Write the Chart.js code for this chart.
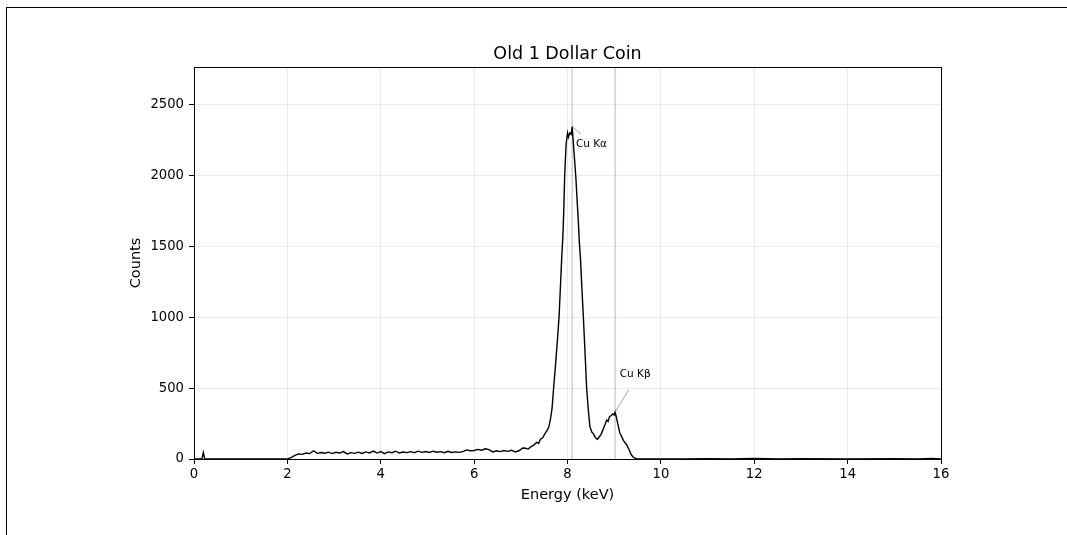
<!DOCTYPE html>
<html><head><meta charset="utf-8">
<script src="https://cdn.jsdelivr.net/npm/chart.js@4.4.1/dist/chart.umd.min.js"></script>
<style>
html,body{margin:0;padding:0;background:#fff;width:1067px;height:535px;overflow:hidden;}
#frame{position:absolute;left:6px;top:7px;width:1200px;height:700px;border-left:1px solid #000;border-top:1px solid #000;}
#wrap{position:absolute;left:94px;top:0;width:947px;height:535px;}
</style></head><body>
<div id="frame"></div>
<div id="wrap"><canvas id="c" width="947" height="535"></canvas></div>
<script>
const chartTitle = 'Old 1 Dollar Coin';
const xLabel = 'Energy (keV)';
const yLabel = 'Counts';
const xTicks = [0, 2, 4, 6, 8, 10, 12, 14, 16];
const yTicks = [0, 500, 1000, 1500, 2000, 2500];
const xRange = [0, 16];
const yRange = [0, 2765];

const energy = [
  0.00, 0.17, 0.20, 0.23, 1.96,
  2.00, 2.08, 2.16, 2.24, 2.32, 2.40, 2.48, 2.56, 2.64, 2.72, 2.80, 2.88, 2.96,
  3.04, 3.12, 3.20, 3.28, 3.36, 3.44, 3.52, 3.60, 3.68, 3.76, 3.84, 3.92,
  4.00, 4.08, 4.16, 4.24, 4.32, 4.40, 4.48, 4.56, 4.64, 4.72, 4.80, 4.88, 4.96,
  5.04, 5.12, 5.20, 5.28, 5.36, 5.44, 5.52, 5.60, 5.68, 5.76, 5.84, 5.92,
  6.00, 6.08, 6.16, 6.24, 6.32, 6.40, 6.48, 6.56, 6.64, 6.72, 6.80, 6.88, 6.96,
  7.04, 7.10, 7.16, 7.22, 7.28, 7.34, 7.38, 7.42, 7.47, 7.52, 7.56, 7.60, 7.64,
  7.67, 7.70, 7.74, 7.78, 7.82, 7.86, 7.88, 7.90, 7.92, 7.94, 7.97,
  8.00, 8.02, 8.05, 8.08, 8.10, 8.12, 8.15, 8.18, 8.21, 8.23, 8.25, 8.28, 8.30,
  8.34, 8.38, 8.41, 8.45, 8.48, 8.52, 8.55, 8.60, 8.64, 8.68, 8.73, 8.77, 8.80,
  8.84, 8.87, 8.90, 8.93, 8.97, 9.00, 9.02, 9.05, 9.09, 9.12, 9.16, 9.20, 9.27,
  9.32, 9.37, 9.41, 9.45, 9.50,
  10.0, 10.5, 11.0, 11.5, 12.0, 12.5, 13.0, 14.0, 15.0, 15.5, 15.8, 16.0
];
const counts = [
  0, 0, 45, 0, 0,
  0, 10, 25, 36, 33, 42, 38, 58, 40, 46, 41, 48, 38,
  47, 42, 52, 36, 45, 40, 48, 39, 50, 43, 56, 42,
  52, 38, 50, 44, 55, 42, 49, 45, 52, 44, 55, 47, 53,
  46, 55, 48, 52, 44, 54, 46, 50, 47, 52, 64, 58,
  60, 68, 62, 72, 66, 50, 58, 52, 60, 54, 62, 50, 58,
  78, 76, 70, 88, 98, 118, 110, 140, 150, 181, 200, 225, 290,
  360, 490, 650, 820, 1005, 1300, 1450, 1560, 1750, 2000, 2220,
  2300, 2270, 2300, 2290, 2345, 2250, 2120, 1980, 1800, 1690, 1550, 1400, 1260,
  1000, 720, 500, 330, 228, 190, 181, 150, 139, 155, 181, 215, 240,
  275, 265, 299, 305, 318, 310, 332, 290, 228, 185, 158, 130, 99,
  65, 28, 12, 5, 0,
  1, 0, 2, 1, 3, 1, 2, 1, 2, 0, 3, 1
];

const lineEnergies = [8.10, 9.02];

const annLabels = ['Cu K\u03b1', 'Cu K\u03b2'];
const annPeakE = [8.10, 9.02];
const annPeakC = [2345, 332];
const annTextE = [8.18, 9.12];
const annTextC = [2200, 580];

const FONT = "'DejaVu Sans', sans-serif";

const spectrum = energy.map((e, i) => ({x: e, y: counts[i]}));
const datasets = [{
  data: spectrum, borderColor: '#000', borderWidth: 1.4, pointRadius: 0,
  tension: 0, fill: false
}];
lineEnergies.forEach(e => datasets.push({
  data: [{x: e, y: yRange[0]}, {x: e, y: yRange[1]}],
  borderColor: 'rgba(31,119,180,0.45)', borderWidth: 1, pointRadius: 0, fill: false
}));

const extras = {
  id: 'extras',
  afterDatasetsDraw(chart) {
    const {ctx, chartArea: a, scales: {x, y}} = chart;
    ctx.save();
    ctx.font = '10.5px ' + FONT;
    ctx.fillStyle = '#000';
    ctx.textAlign = 'left';
    ctx.textBaseline = 'alphabetic';
    const ends = [[5, -13], [9, 13]];
    annLabels.forEach((t, i) => {
      const px = x.getPixelForValue(annPeakE[i]);
      const py = y.getPixelForValue(annPeakC[i]);
      const tx = x.getPixelForValue(annTextE[i]);
      const ty = y.getPixelForValue(annTextC[i]);
      ctx.strokeStyle = '#9a9a9a';
      ctx.lineWidth = 0.9;
      ctx.beginPath();
      ctx.moveTo(px, py);
      ctx.lineTo(tx + ends[i][0], ty + ends[i][1]);
      ctx.stroke();
      ctx.fillText(t, tx, ty);
    });
    ctx.strokeStyle = '#000';
    ctx.lineWidth = 1;
    ctx.strokeRect(Math.round(a.left) + 0.5, Math.round(a.top) + 0.5,
      Math.round(a.right) - Math.round(a.left), Math.round(a.bottom) - Math.round(a.top));
    // title centred over the plot area
    ctx.font = '17.5px ' + FONT;
    ctx.textAlign = 'center';
    ctx.textBaseline = 'middle';
    ctx.fillText(chartTitle, (a.left + a.right) / 2, a.top - 12.5);
    ctx.restore();
  }
};

new Chart(document.getElementById('c'), {
  type: 'line',
  data: {datasets},
  options: {
    responsive: false, animation: false, devicePixelRatio: 1,
    layout: {padding: {left: 0, right: 100, top: 67, bottom: 0}},
    plugins: {legend: {display: false}, tooltip: {enabled: false}, title: {display: false}},
    scales: {
      x: {
        type: 'linear', min: xRange[0], max: xRange[1],
        afterBuildTicks: s => { s.ticks = xTicks.map(v => ({value: v})); },
        afterFit: s => { s.height = 76; },
        ticks: {color: '#000', font: {family: FONT, size: 13.2}, padding: 3, maxRotation: 0,
          callback: v => String(v)},
        grid: {color: 'rgba(0,0,0,0.08)', tickColor: '#000', tickLength: 5, lineWidth: 1},
        border: {display: true, color: '#000', width: 1},
        title: {display: true, text: xLabel, color: '#000',
          font: {family: FONT, size: 14.5}, padding: {top: 0, bottom: 31}}
      },
      y: {
        type: 'linear', min: yRange[0], max: yRange[1],
        afterBuildTicks: s => { s.ticks = yTicks.map(v => ({value: v})); },
        afterFit: s => { s.width = 100; },
        ticks: {color: '#000', font: {family: FONT, size: 13.2}, padding: 5,
          callback: v => String(v)},
        grid: {color: 'rgba(0,0,0,0.08)', tickColor: '#000', tickLength: 5, lineWidth: 1},
        border: {display: true, color: '#000', width: 1},
        title: {display: true, text: yLabel, color: '#000',
          font: {family: FONT, size: 14.5}, padding: {top: 34, bottom: 0}}
      }
    }
  },
  plugins: [extras]
});
</script>
</body></html>
